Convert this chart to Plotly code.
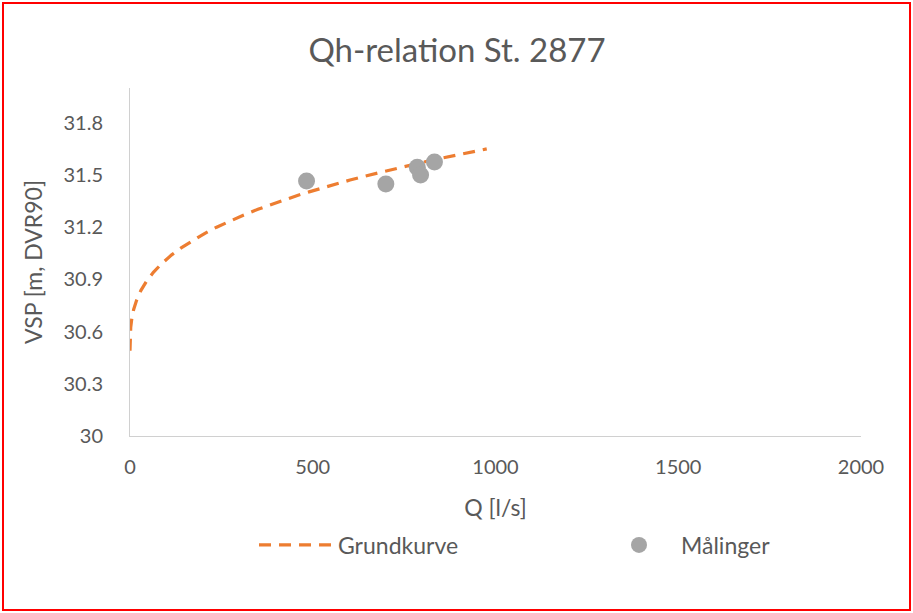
import plotly.graph_objects as go

# Grundkurve (rating curve)
curve_q = [0, 2, 5, 10, 18, 30, 45, 64, 85, 114, 140, 173, 205, 237, 270, 310, 350, 383,
           420, 456, 490, 520, 560, 602, 640, 684, 720, 757, 800, 839, 900, 976]
curve_h = [30.49, 30.625, 30.676, 30.727, 30.78, 30.837, 30.889, 30.941, 30.987, 31.041,
           31.081, 31.126, 31.165, 31.20, 31.233, 31.269, 31.303, 31.328, 31.356, 31.381,
           31.403, 31.422, 31.447, 31.471, 31.492, 31.515, 31.534, 31.552, 31.573, 31.591,
           31.618, 31.65]

# Målinger (measurements)
meas_q = [483, 700, 786, 795, 833]
meas_h = [31.466, 31.448, 31.544, 31.50, 31.575]

x_ticks = [0, 500, 1000, 1500, 2000]
y_ticks = [30, 30.3, 30.6, 30.9, 31.2, 31.5, 31.8]
y_tick_labels = ["30", "30.3", "30.6", "30.9", "31.2", "31.5", "31.8"]

FONT = "Lato"
GREY_TXT = "#595959"

fig = go.Figure()
fig.add_trace(go.Scatter(x=curve_q, y=curve_h, mode="lines", name="Grundkurve",
                         line=dict(color="#ED7D31", width=3.2, dash="12px,8px"),
                         legend="legend"))
fig.add_trace(go.Scatter(x=meas_q, y=meas_h, mode="markers", name="Målinger",
                         marker=dict(color="#A5A5A5", size=17), legend="legend2"))

L, R, T, B = 130, 52, 88, 177
W, H = 913, 613
pw, ph = W - L - R, H - T - B

def px_x(p):
    return (p - L) / pw

def px_y(p):
    return (H - B - p) / ph

fig.add_shape(type="rect", xref="paper", yref="paper",
              x0=px_x(3), x1=px_x(910), y0=px_y(3), y1=px_y(610),
              line=dict(color="#FF0000", width=2), layer="below")

legend_font = dict(size=23, family=FONT, color=GREY_TXT)

fig.update_layout(
    width=W, height=H,
    margin=dict(l=L, r=R, t=T, b=B),
    paper_bgcolor="white", plot_bgcolor="white",
    font=dict(family=FONT, color=GREY_TXT),
    title=dict(text="Qh-relation St. 2877", x=px_x(457), xref="paper", xanchor="center",
               y=1 - 50 / H, yanchor="middle",
               font=dict(size=33, family=FONT, color=GREY_TXT)),
    showlegend=True,
    legend=dict(orientation="h", x=px_x(254), xanchor="left", y=px_y(545), yanchor="middle",
                font=legend_font, itemwidth=74, bgcolor="rgba(0,0,0,0)"),
    legend2=dict(orientation="h", x=px_x(597), xanchor="left", y=px_y(545), yanchor="middle",
                 font=legend_font, itemwidth=74, bgcolor="rgba(0,0,0,0)"),
    xaxis=dict(range=[0, 2000], tickvals=x_ticks, showgrid=False, zeroline=False,
               showline=True, linecolor="#D0D0D0", linewidth=1, ticks="",
               tickfont=dict(size=20, family=FONT, color=GREY_TXT),
               ticklabelstandoff=13,
               title=dict(text="Q [l/s]", font=dict(size=23, family=FONT, color=GREY_TXT),
                          standoff=22)),
    yaxis=dict(range=[30, 32], tickvals=y_ticks, ticktext=y_tick_labels, showgrid=False,
               zeroline=False, showline=True, linecolor="#D0D0D0", linewidth=1, ticks="",
               tickfont=dict(size=20, family=FONT, color=GREY_TXT),
               ticklabelstandoff=22,
               title=dict(text="VSP [m, DVR90]", font=dict(size=23, family=FONT, color=GREY_TXT),
                          standoff=14)),
)

fig.write_html("out.html", config={"displayModeBar": False},
               post_script="document.body.style.margin='0';")
